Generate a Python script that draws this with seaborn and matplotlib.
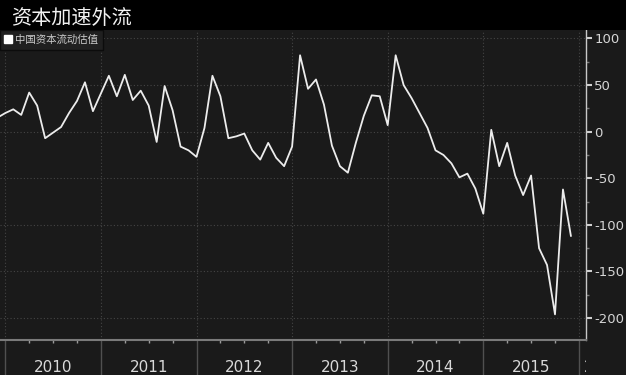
import matplotlib
matplotlib.use('Agg')
import matplotlib.pyplot as plt
import seaborn as sns
import pandas as pd
from matplotlib.lines import Line2D
from matplotlib.patches import Rectangle
from matplotlib.font_manager import FontProperties
from matplotlib.transforms import Bbox, TransformedBbox, blended_transform_factory

# ---------------- data ----------------
title = '资本加速外流'
series_label = '中国资本流动估值'
start_month = '2009-12-01'
end_month = '2015-12-01'
values = [15, 20, 24, 18, 42, 28, -7, -1, 5, 20, 33, 53, 22,
          41, 60, 38, 61, 34, 44, 28, -11, 49, 23, -16, -20,
          -27, 4, 60, 38, -7, -5, -2, -20, -30, -12, -28, -37,
          -16, 82, 46, 56, 29, -15, -37, -44, -12, 17, 39, 38,
          7, 82, 50, 36, 20, 4, -20, -25, -34, -49, -45, -61,
          -88, 2, -37, -12, -47, -68, -47, -125, -143, -196, -62, -112]
years = [2010, 2011, 2012, 2013, 2014, 2015]
year_edges = [2010, 2011, 2012, 2013, 2014, 2015, 2016]
yticks = [100, 50, 0, -50, -100, -150, -200]
yminor = [75, 25, -25, -75, -125, -175]

months = pd.date_range(start_month, end_month, freq='MS')
df = pd.DataFrame({'date': months, 'value': values})
df['t'] = df['date'].dt.year + (df['date'].dt.month - 1) / 12.0

# ---------------- style ----------------
sns.set_theme(style='dark')
plt.rcParams['font.family'] = ['Noto Sans CJK SC', 'DejaVu Sans']
plt.rcParams['axes.unicode_minus'] = False

BG = '#1a1a1a'
W, H = 626, 375
fig = plt.figure(figsize=(W / 100, H / 100), dpi=100, facecolor=BG)
# black title band
fig.patches.append(Rectangle((0, 1 - 30 / H), 1, 30 / H, transform=fig.transFigure,
                             facecolor='black', edgecolor='none', zorder=0))

ax = fig.add_axes([0, 35 / H, 586 / W, 310 / H])
ax.set_facecolor(BG)

sns.lineplot(data=df, x='t', y='value', ax=ax, color='#ececec', linewidth=1.3,
             legend=False)

px_per_year = 95.6
ax.set_xlim(2010 - 5.3 / px_per_year, 2010 + 580.7 / px_per_year)
ax.set_ylim(-223.5, 109.1)
ax.set_xlabel('')
ax.set_ylabel('')

# x axis: year edges as major ticks (long separators), quarters as minor ticks
ax.set_xticks(year_edges)
ax.set_xticklabels([])
quarters = [y + q for y in years for q in (0.25, 0.5, 0.75)]
ax.set_xticks(quarters, minor=True)
ax.xaxis.remove_overlapping_locs = False
ax.tick_params(axis='x', which='major', direction='out', length=25.2, width=1,
               color='#505050', bottom=True)
ax.tick_params(axis='x', which='minor', direction='out', length=2, width=1,
               color='#9a9a9a', bottom=True)

# y axis on right
ax.yaxis.tick_right()
ax.set_yticks(yticks)
ax.set_yticklabels([str(v) for v in yticks])
ax.set_yticks(yminor, minor=True)
ax.tick_params(axis='y', which='major', direction='out', length=4, width=1.5,
               color='#cfcfcf', labelcolor='#d6d6d6', labelsize=9.5, pad=2,
               right=True, left=False)
ax.tick_params(axis='y', which='minor', direction='out', length=2, width=1,
               color='#777777', right=True, left=False)
for lab in ax.get_yticklabels():
    lab.set_family(['Liberation Sans Narrow', 'DejaVu Sans'])

ax.grid(True, which='major', axis='both', color='#454545',
        linestyle=(0, (1, 2)), linewidth=0.8)

for side in ('top', 'left'):
    ax.spines[side].set_visible(False)
ax.spines['right'].set_visible(True)
ax.spines['right'].set_color('#c8c8c8')
ax.spines['right'].set_linewidth(1)
ax.spines['bottom'].set_visible(True)
ax.spines['bottom'].set_color('#7a7a7a')
ax.spines['bottom'].set_linewidth(1.5)

# year labels in the band below
btr = blended_transform_factory(ax.transData, ax.transAxes)
ylab = (340 - 367) / 310
for y in years:
    ax.text(y + 0.5, ylab, str(y), transform=btr, ha='center', va='center',
            fontsize=11, color='#d9d9d9',
            family=['Liberation Sans Narrow', 'DejaVu Sans'], clip_on=False)
clipbox = TransformedBbox(Bbox([[0, -0.2], [1, 0]]), ax.transAxes)
t1 = ax.text(2016 + 5 / px_per_year, ylab, '2016', transform=btr, ha='left',
             va='center', fontsize=11, color='#d9d9d9',
             family=['Liberation Sans Narrow', 'DejaVu Sans'])
t1.set_clip_box(clipbox); t1.set_clip_on(True)

# legend
handle = Line2D([], [], marker='s', linestyle='none', markerfacecolor='white',
                markeredgecolor='white', markersize=6)
leg = ax.legend(handles=[handle], labels=[series_label], loc='upper left',
                bbox_to_anchor=(0, 1), borderaxespad=0, frameon=True,
                fancybox=False, facecolor='#202020', edgecolor='#0c0c0c',
                prop=FontProperties(family=['Noto Sans CJK SC', 'DejaVu Sans'], size=7.5),
                labelcolor='#cccccc', handlelength=0.7, handletextpad=0.3,
                borderpad=0.45)
leg.get_frame().set_alpha(1)

# title
fig.text(11 / W, 1 - 18 / H, title, fontsize=14.5, color='#f2f2f2', va='center',
         ha='left', family=['Noto Sans CJK SC', 'DejaVu Sans'])

fig.savefig('out.png', dpi=100, facecolor=BG)
